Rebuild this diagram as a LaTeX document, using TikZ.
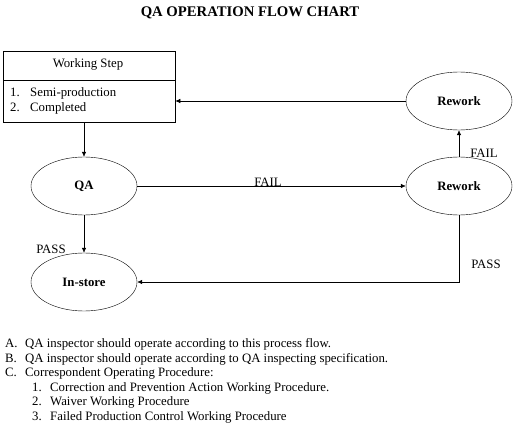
\documentclass[tikz,border=0pt]{standalone}
\usepackage{fontspec}
\setmainfont{Liberation Serif}
\usetikzlibrary{shapes.geometric,arrows.meta}
\begin{document}
\begin{tikzpicture}[x=1pt,y=-1pt,
  every node/.style={font=\fontsize{12.8}{15}\selectfont},
  oval/.style={draw,ellipse,minimum width=106pt,minimum height=58pt,inner sep=0pt,font=\fontsize{12.8}{15}\selectfont\bfseries},
  arr/.style={-{Latex[length=5pt,width=4.5pt]},line width=0.6pt},
  txt/.style={anchor=base west,inner sep=0pt}]
\useasboundingbox (0,0) rectangle (520,428);
\node[font=\fontsize{14.7}{17}\selectfont\bfseries] (title) at (250,13) {QA OPERATION FLOW CHART};
% box
\node[draw,line width=0.6pt,minimum width=172pt,minimum height=71pt,inner sep=0pt] (box) at (89,86.5) {};
\coordinate (dl) at (3,80);
\coordinate (dr) at (175,80);
\draw[line width=0.6pt] (dl) -- (dr);
\node (ws) at (88,64) {Working Step};
\node[txt] (i1n) at (10,97) {1.};
\node[txt] (i1) at (30,97) {Semi-production};
\node[txt] (i2n) at (10,111) {2.};
\node[txt] (i2) at (30,111) {Completed};
% ellipses
\node[oval] (rw2) at (459,101) {Rework};
\node[oval] (qa) at (84,186) {QA};
\node[oval] (rw1) at (459,186) {Rework};
\node[oval] (store) at (84,282) {In-store};
% connectors
\draw[arr] (rw2.west) -- (rw2.west -| box.east);
\draw[arr] (box.south -| qa.north) -- (qa.north);
\draw[arr] (qa.east) -- (rw1.west);
\draw[arr] (rw1.north) -- (rw2.south);
\draw[arr] (qa.south) -- (store.north);
\draw[arr] (rw1.south) |- (store.east);
% labels
\node (f1) at (268,182) {FAIL};
\node (f2) at (484,153) {FAIL};
\node (p1) at (51,249) {PASS};
\node (p2) at (486,264) {PASS};
% notes
\node[txt] (an) at (5,347) {A.};
\node[txt] (at) at (25,347) {QA inspector should operate according to this process flow.};
\node[txt] (bn) at (5,362) {B.};
\node[txt] (bt) at (25,362) {QA inspector should operate according to QA inspecting specification.};
\node[txt] (cn) at (5,376) {C.};
\node[txt] (ct) at (25,376) {Correspondent Operating Procedure:};
\node[txt] (c1n) at (32,391) {1.};
\node[txt] (c1) at (50,391) {Correction and Prevention Action Working Procedure.};
\node[txt] (c2n) at (32,405.5) {2.};
\node[txt] (c2) at (50,405.5) {Waiver Working Procedure};
\node[txt] (c3n) at (32,420) {3.};
\node[txt] (c3) at (50,420) {Failed Production Control Working Procedure};
\end{tikzpicture}
\end{document}
